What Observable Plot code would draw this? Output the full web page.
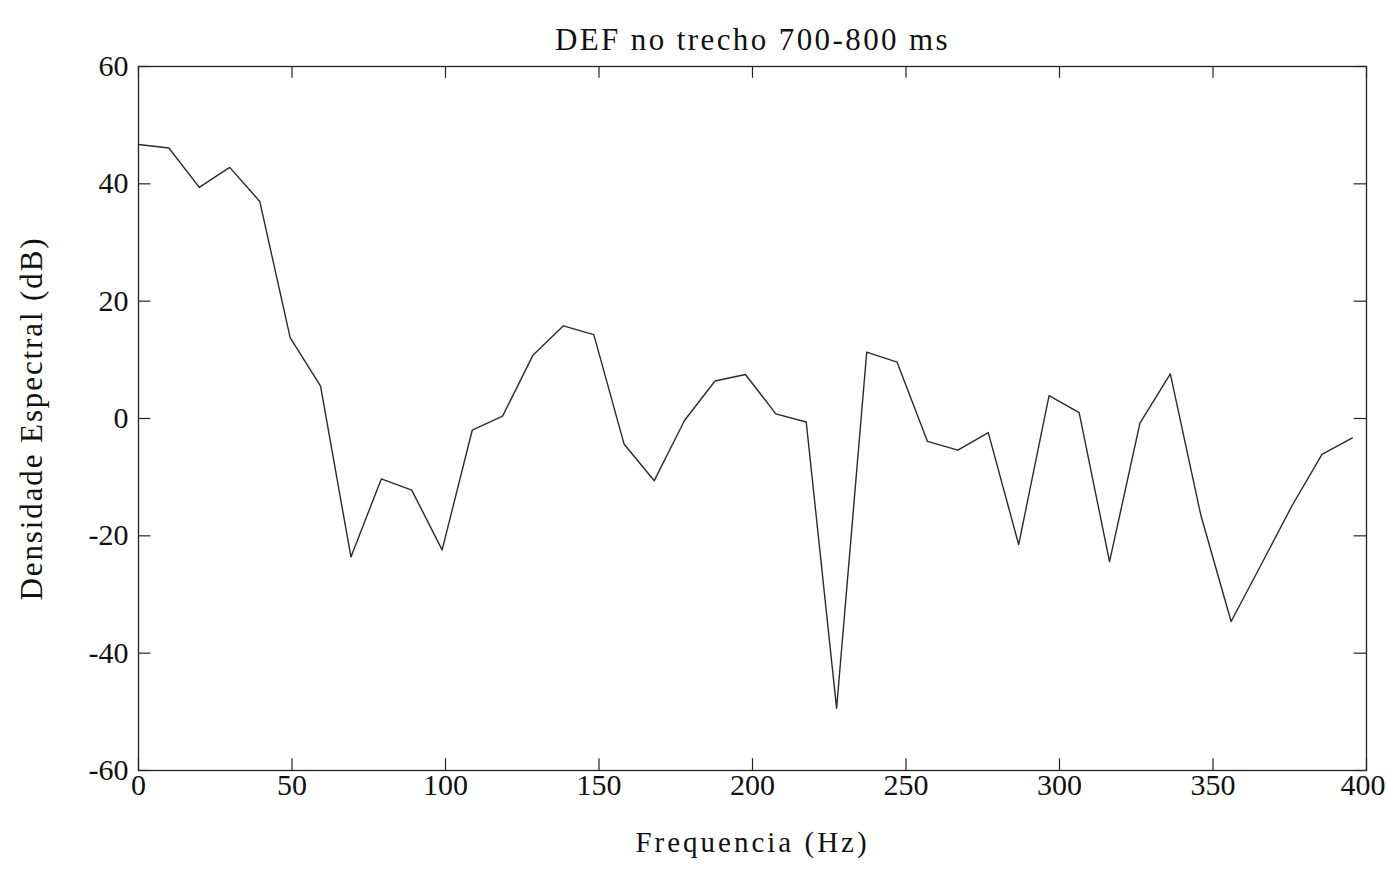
<!DOCTYPE html>
<html>
<head>
<meta charset="utf-8">
<script src="https://cdn.jsdelivr.net/npm/d3@7"></script>
<script src="https://cdn.jsdelivr.net/npm/@observablehq/plot@0.6"></script>
<style>
  html, body { margin: 0; padding: 0; background: #fff; }
  #chart svg { display: block; }
</style>
</head>
<body>
<div id="chart"></div>
<script>
// Frequency (Hz) of each spectral sample
const freq = [0, 9.9, 19.8, 29.7, 39.5, 49.4, 59.3, 69.2, 79.1, 89.0,
              98.9, 108.7, 118.6, 128.5, 138.4, 148.3, 158.2, 168.0, 177.9, 187.8,
              197.7, 207.6, 217.5, 227.4, 237.2, 247.1, 257.0, 266.9, 276.8, 286.7,
              296.6, 306.4, 316.3, 326.2, 336.1, 346.0, 355.9, 365.8, 375.6, 385.5,
              395.4];
// Spectral density (dB)
const dens = [46.7, 46.1, 39.4, 42.8, 37.0, 13.8, 5.5, -23.6, -10.3, -12.2,
              -22.4, -2.0, 0.4, 10.8, 15.8, 14.3, -4.4, -10.6, -0.3, 6.4,
              7.5, 0.8, -0.6, -49.4, 11.3, 9.6, -3.9, -5.4, -2.4, -21.5,
              3.9, 1.0, -24.4, -0.8, 7.6, -16.4, -34.6, -24.8, -15.0, -6.1,
              -3.3];
const xTicks = [0, 50, 100, 150, 200, 250, 300, 350, 400];
const yTicks = [-60, -40, -20, 0, 20, 40, 60];
const title = "DEF no trecho 700-800 ms";
const xLabel = "Frequencia (Hz)";
const yLabel = "Densidade Espectral (dB)";

const data = freq.map((f, i) => ({f, d: dens[i]}));
const font = "'Liberation Serif', 'Times New Roman', serif";

const chart = Plot.plot({
  width: 1386,
  height: 875,
  marginLeft: 138,
  marginRight: 20,
  marginTop: 66,
  marginBottom: 105,
  style: {fontFamily: font, fontSize: "30px", color: "#111", background: "#fff"},
  x: {domain: [0, 400], ticks: xTicks},
  y: {domain: [-60, 60], ticks: yTicks},
  marks: [
    Plot.frame({stroke: "#222", strokeWidth: 1.3}),
    // inward ticks on all four sides
    Plot.ruleX(xTicks, {x: d => d, y1: -60, y2: -58, stroke: "#222", strokeWidth: 1.2}),
    Plot.ruleX(xTicks, {x: d => d, y1: 60, y2: 58, stroke: "#222", strokeWidth: 1.2}),
    Plot.ruleY(yTicks, {y: d => d, x1: 0, x2: 4, stroke: "#222", strokeWidth: 1.2}),
    Plot.ruleY(yTicks, {y: d => d, x1: 400, x2: 396, stroke: "#222", strokeWidth: 1.2}),
    Plot.axisX({ticks: xTicks, tickSize: 0, tickPadding: 3, label: null, fontSize: 30,
                tickFormat: d => String(d)}),
    Plot.axisY({ticks: yTicks, tickSize: 0, tickPadding: 10, label: null, fontSize: 30,
                tickFormat: d => String(d)}),
    Plot.line(data, {x: "f", y: "d", stroke: "#2a2a2a", strokeWidth: 1.4}),
    Plot.text([title], {frameAnchor: "top", dy: -39, fontSize: 31, fill: "#111"}),
    Plot.text([xLabel], {frameAnchor: "bottom", dy: 81, fontSize: 29, fill: "#111"}),
    Plot.text([yLabel], {frameAnchor: "left", textAnchor: "middle", dx: -106, rotate: -90,
                         fontSize: 31, fill: "#111"})
  ]
});
document.getElementById("chart").appendChild(chart);

// typewriter-like spacing of the printed labels
const svg = d3.select(chart);
const spacing = new Map([[title, 2.4], [xLabel, 3], [yLabel, 1.9]]);
svg.selectAll("text").each(function () {
  const t = this.textContent;
  if (spacing.has(t)) d3.select(this).attr("letter-spacing", spacing.get(t) + "px");
});
// keep the last x tick label inside the picture (reference shows it at the edge)
svg.selectAll("g[aria-label='x-axis tick label'] text").each(function () {
  if (this.textContent === "400") d3.select(this).attr("text-anchor", "end").attr("dx", 19);
});
</script>
</body>
</html>
